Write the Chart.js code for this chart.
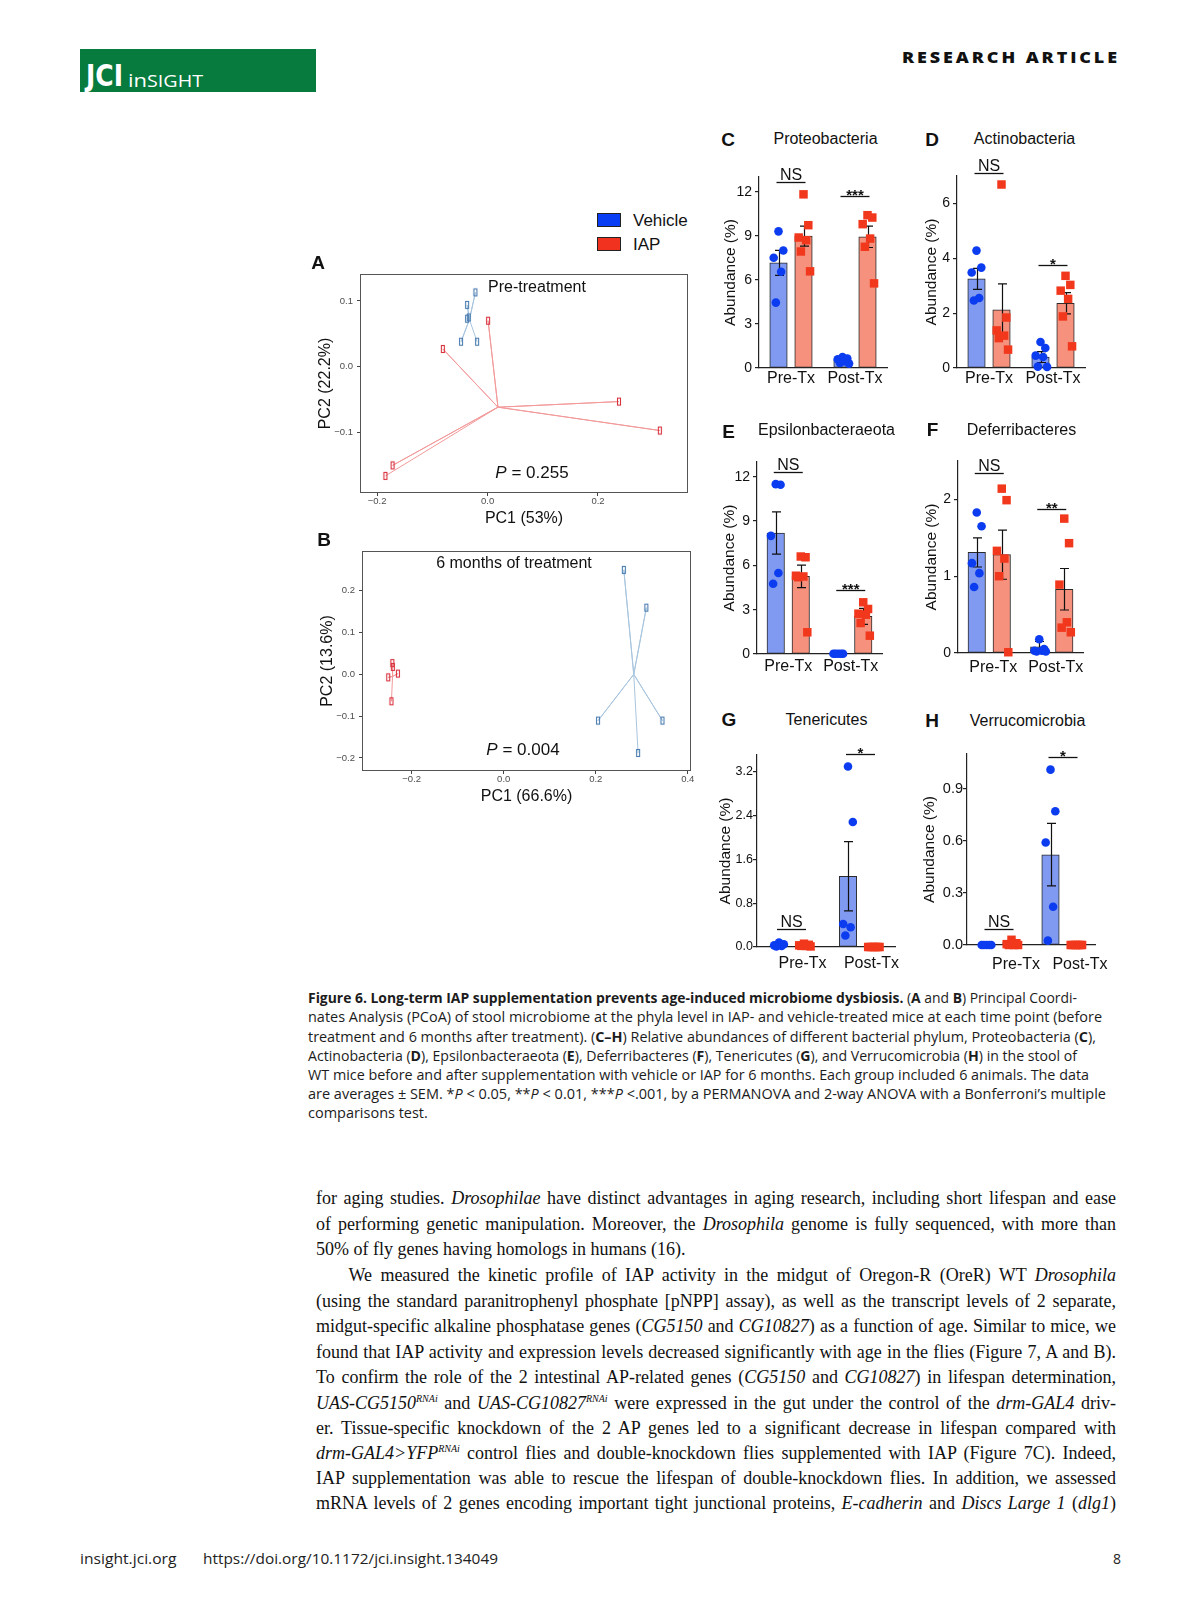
<!DOCTYPE html>
<html lang="en">
<head>
<meta charset="utf-8">
<title>Figure 6 – Long-term IAP supplementation</title>
<script src="https://cdn.jsdelivr.net/npm/chart.js@4.4.1/dist/chart.umd.min.js"></script>
<style>
html,body{margin:0;padding:0;background:#fff;}
body{position:relative;width:1195px;height:1600px;overflow:hidden;font-family:"Liberation Sans",Arial,Helvetica,sans-serif;color:#111;}
canvas{position:absolute;}
.t{position:absolute;white-space:nowrap;line-height:1;}
.cap{position:absolute;white-space:nowrap;line-height:1;font-family:"Open Sans","Noto Sans",sans-serif;font-size:14.5px;color:#1c1c1c;transform-origin:0 50%;}
.bt{position:absolute;white-space:nowrap;line-height:1;font-family:"Liberation Serif","Times New Roman",serif;font-size:18px;color:#111;transform-origin:0 50%;}
.bt sup{font-size:10px;vertical-align:7px;line-height:0;}
.ft{position:absolute;white-space:nowrap;line-height:1;font-family:"Open Sans","Noto Sans",sans-serif;font-size:14px;color:#222;transform-origin:0 50%;}
</style>
</head>
<body>
<script>
// ===================== DATA =====================
const groupLabels = ['Pre-Tx', 'Post-Tx'];
const seriesLabels = ['Vehicle', 'IAP'];

// A: PCoA, pre-treatment
const pcoaAVehicleX = [-0.022, -0.037, -0.037, -0.034, -0.048, -0.019];
const pcoaAVehicleY = [0.113, 0.094, 0.073, 0.075, 0.038, 0.038];
const pcoaAIapX = [0.001, -0.081, 0.238, 0.312, -0.172, -0.185];
const pcoaAIapY = [0.070, 0.027, -0.053, -0.097, -0.150, -0.166];
const pcoaAXTicks = [-0.2, 0.0, 0.2];
const pcoaAXTickLabels = ['\u22120.2', '0.0', '0.2'];
const pcoaAYTicks = [-0.1, 0.0, 0.1];
const pcoaAYTickLabels = ['\u22120.1', '0.0', '0.1'];

// B: PCoA, 6 months of treatment
const pcoaBVehicleX = [0.261, 0.310, 0.205, 0.345, 0.292];
const pcoaBVehicleY = [0.248, 0.158, -0.111, -0.111, -0.188];
const pcoaBIapX = [-0.242, -0.241, -0.251, -0.230, -0.244];
const pcoaBIapY = [0.026, 0.017, -0.008, 0.001, -0.065];
const pcoaBXTicks = [-0.2, 0.0, 0.2, 0.4];
const pcoaBXTickLabels = ['\u22120.2', '0.0', '0.2', '0.4'];
const pcoaBYTicks = [-0.2, -0.1, 0.0, 0.1, 0.2];
const pcoaBYTickLabels = ['\u22120.2', '\u22120.1', '0.0', '0.1', '0.2'];

// C: Proteobacteria
const proteoVehicleMean = [7.16, 0.52];
const proteoVehicleSem = [0.85, 0.10];
const proteoIapMean = [8.98, 8.93];
const proteoIapSem = [0.68, 0.73];
const proteoVehiclePre = [9.30, 8.00, 7.50, 6.55, 4.45];
const proteoVehiclePost = [0.75, 0.65, 0.60, 0.45, 0.35, 0.30];
const proteoIapPre = [11.82, 9.72, 8.88, 8.70, 7.93, 6.58];
const proteoIapPost = [10.40, 10.24, 9.79, 8.81, 8.25, 5.76];
const proteoTicks = [0, 3, 6, 9, 12];
const proteoTickLabels = ['0', '3', '6', '9', '12'];
const proteoSig = ['NS', '***'];

// D: Actinobacteria
const actinoVehicleMean = [3.25, 0.40];
const actinoVehicleSem = [0.38, 0.20];
const actinoIapMean = [2.12, 2.36];
const actinoIapSem = [0.95, 0.39];
const actinoVehiclePre = [4.28, 3.66, 3.48, 2.55, 2.46];
const actinoVehiclePost = [0.95, 0.73, 0.45, 0.40, 0.05, 0.04];
const actinoIapPre = [6.69, 1.84, 1.37, 1.18, 1.09, 0.67];
const actinoIapPost = [3.36, 3.03, 2.82, 2.52, 1.88, 0.79];
const actinoTicks = [0, 2, 4, 6];
const actinoTickLabels = ['0', '2', '4', '6'];
const actinoSig = ['NS', '*'];

// E: Epsilonbacteraeota
const epsilonVehicleMean = [8.19, 0.02];
const epsilonVehicleSem = [1.43, 0.01];
const epsilonIapMean = [5.26, 2.55];
const epsilonIapSem = [0.76, 0.54];
const epsilonVehiclePre = [11.50, 11.46, 8.00, 5.48, 4.76];
const epsilonVehiclePost = [0.02, 0.02, 0.02, 0.02, 0.02];
const epsilonIapPre = [6.60, 6.55, 5.30, 5.25, 5.20, 1.47];
const epsilonIapPost = [3.50, 3.05, 2.73, 2.66, 2.10, 1.24];
const epsilonTicks = [0, 3, 6, 9, 12];
const epsilonTickLabels = ['0', '3', '6', '9', '12'];
const epsilonSig = ['NS', '***'];

// F: Deferribacteres
const deferriVehicleMean = [1.31, 0.08];
const deferriVehicleSem = [0.19, 0.07];
const deferriIapMean = [1.28, 0.83];
const deferriIapSem = [0.32, 0.27];
const deferriVehiclePre = [1.83, 1.65, 1.17, 1.04, 0.86];
const deferriVehiclePost = [0.18, 0.05, 0.03, 0.03, 0.02, 0.02];
const deferriIapPre = [2.14, 1.99, 1.33, 1.23, 1.00, 0.01];
const deferriIapPost = [1.75, 1.43, 0.89, 0.40, 0.33, 0.27];
const deferriTicks = [0, 1, 2];
const deferriTickLabels = ['0', '1', '2'];
const deferriSig = ['NS', '**'];

// G: Tenericutes
const teneriVehicleMean = [0.03, 1.29];
const teneriVehicleSem = [0.01, 0.63];
const teneriIapMean = [0.03, 0.00];
const teneriIapSem = [0.01, 0.00];
const teneriVehiclePre = [0.08, 0.05, 0.03, 0.02, 0.01];
const teneriVehiclePost = [3.29, 2.28, 0.42, 0.36, 0.21];
const teneriIapPre = [0.06, 0.04, 0.03, 0.02, 0.02, 0.01];
const teneriIapPost = [0.00, 0.00, 0.00, 0.00, 0.00, 0.00];
const teneriTicks = [0, 0.8, 1.6, 2.4, 3.2];
const teneriTickLabels = ['0.0', '0.8', '1.6', '2.4', '3.2'];
const teneriSig = ['NS', '*'];

// H: Verrucomicrobia
const verrucoVehicleMean = [0.00, 0.52];
const verrucoVehicleSem = [0.00, 0.18];
const verrucoIapMean = [0.015, 0.00];
const verrucoIapSem = [0.005, 0.00];
const verrucoVehiclePre = [0.00, 0.00, 0.00, 0.00, 0.00];
const verrucoVehiclePost = [1.01, 0.77, 0.59, 0.22, 0.025];
const verrucoIapPre = [0.03, 0.01, 0.005, 0.00, 0.00, 0.00];
const verrucoIapPost = [0.00, 0.00, 0.00, 0.00, 0.00, 0.00];
const verrucoTicks = [0, 0.3, 0.6, 0.9];
const verrucoTickLabels = ['0.0', '0.3', '0.6', '0.9'];
const verrucoSig = ['NS', '*'];

// ===================== STYLE =====================
const FF = '"Liberation Sans", Arial, Helvetica, sans-serif';
const VEH_BAR = '#7f9af0';
const IAP_BAR = '#f5917d';
const VEH_DOT = '#0c3cf0';
const IAP_DOT = '#f2381c';
const AXIS = '#222';
const JITTER = [0.0, 0.55, -0.55, 0.3, -0.3, 0.75];
const BAR_W = 17.5;     // bar width, px
const BAR_SLOT = 12.5;  // distance of each bar centre from the group centre, px

Chart.defaults.font.family = FF;
Chart.defaults.color = '#111';

const mean = a => a.reduce((s, v) => s + v, 0) / a.length;

function makeCanvas(box) {
  const [l, t, r, b] = box;
  const c = document.createElement('canvas');
  const w = r - l, h = b - t;
  c.width = w; c.height = h;
  c.style.left = l + 'px'; c.style.top = t + 'px';
  c.style.width = w + 'px'; c.style.height = h + 'px';
  document.body.appendChild(c);
  return c;
}

function text(html, x, y, style, anchor) {
  const d = document.createElement('div');
  d.className = 't';
  d.innerHTML = html;
  Object.assign(d.style, style || {});
  d.style.left = x + 'px';
  d.style.top = y + 'px';
  d.style.transform = anchor === 'left' ? 'translateY(-50%)' : 'translate(-50%,-50%)';
  document.body.appendChild(d);
  return d;
}

// ===================== PCoA PANELS =====================
function rectMarker(color) {
  const c = document.createElement('canvas');
  c.width = 6; c.height = 10;
  const x = c.getContext('2d');
  x.strokeStyle = color; x.lineWidth = 1.1;
  x.strokeRect(1.5, 1.5, 3, 7);
  return c;
}

function pcoaPanel(p) {
  const cv = makeCanvas(p.canvas);
  const [cl, ct, cr, cb] = p.canvas;
  const xy = (xs, ys) => xs.map((x, i) => ({ x: x, y: ys[i] }));
  const spider = (xs, ys) => {
    const cx = mean(xs), cy = mean(ys), d = [];
    xs.forEach((x, i) => { d.push({ x: cx, y: cy }); d.push({ x: x, y: ys[i] }); });
    return d;
  };
  const frame = {
    id: 'frame',
    beforeDatasetsDraw(chart) {
      const a = chart.chartArea, ctx = chart.ctx;
      ctx.save();
      ctx.strokeStyle = '#555'; ctx.lineWidth = 1;
      ctx.strokeRect(Math.round(a.left) + 0.5, Math.round(a.top) + 0.5,
        Math.round(a.right - a.left) - 1, Math.round(a.bottom - a.top) - 1);
      ctx.restore();
    }
  };
  new Chart(cv, {
    type: 'scatter',
    data: {
      datasets: [
        { type: 'line', data: spider(p.iapX, p.iapY), borderColor: '#f29a9a', borderWidth: 1, pointRadius: 0, tension: 0, fill: false, order: 3 },
        { type: 'line', data: spider(p.vehX, p.vehY), borderColor: '#a8c5de', borderWidth: 1, pointRadius: 0, tension: 0, fill: false, order: 2 },
        { type: 'scatter', label: seriesLabels[1], data: xy(p.iapX, p.iapY), pointStyle: rectMarker('#d8323f'), pointRadius: 4, clip: false, order: 1 },
        { type: 'scatter', label: seriesLabels[0], data: xy(p.vehX, p.vehY), pointStyle: rectMarker('#4a7cb0'), pointRadius: 4, clip: false, order: 0 }
      ]
    },
    options: {
      responsive: false, devicePixelRatio: 1, animation: false,
      layout: { padding: { left: 0, top: p.area.t - ct, right: cr - p.area.r, bottom: 0 }, autoPadding: false },
      plugins: { legend: { display: false }, tooltip: { enabled: false } },
      scales: {
        x: {
          type: 'linear', min: p.xMin, max: p.xMax, offset: false,
          afterBuildTicks(s) { s.ticks = p.xTicks.map(v => ({ value: v })); },
          ticks: { font: { size: 9.5 }, color: '#4d4d4d', padding: 0, autoSkip: false, maxRotation: 0, callback: (v, i) => p.xTickLabels[i] },
          grid: { drawOnChartArea: false, drawTicks: true, tickLength: 3, color: '#444' },
          border: { display: false },
          title: { display: true, text: p.xTitle, font: { size: 16 }, color: '#111', padding: 0 },
          afterFit(s) { s.height = cb - p.area.b; s.paddingLeft = 0; s.paddingRight = 0; }
        },
        y: {
          type: 'linear', min: p.yMin, max: p.yMax,
          afterBuildTicks(s) { s.ticks = p.yTicks.map(v => ({ value: v })); },
          ticks: { font: { size: 9.5 }, color: '#4d4d4d', padding: 4, autoSkip: false, callback: (v, i) => p.yTickLabels[i] },
          grid: { drawOnChartArea: false, drawTicks: true, tickLength: 3, color: '#444' },
          border: { display: false },
          title: { display: true, text: p.yTitle, font: { size: 16 }, color: '#111', padding: 0 },
          afterFit(s) { s.width = p.area.l - cl; s.paddingTop = 0; s.paddingBottom = 0; }
        }
      }
    },
    plugins: [frame]
  });
}

// ===================== BAR PANELS =====================
function barPanel(p) {
  const cv = makeCanvas(p.canvas);
  const [cl, ct, cr, cb] = p.canvas;
  const catW = (p.area.r - p.area.l) / 2;      // px per group
  const slot = BAR_SLOT / catW;                 // group units
  const half = (BAR_W / 2) / catW;
  const barData = (m, s) => m.map((v, g) => ({ x: g + 0.5 + (s ? 1 : -1) * slot, y: v }));
  const dots = (vals, g, s) => vals.map((v, i) => ({
    x: g + 0.5 + (s ? 1 : -1) * slot + JITTER[i % JITTER.length] * half, y: v
  }));
  const vehDots = dots(p.vehPre, 0, 0).concat(dots(p.vehPost, 1, 0));
  const iapDots = dots(p.iapPre, 0, 1).concat(dots(p.iapPost, 1, 1));

  let barsDrawn = 0;
  const extras = {
    id: 'extras',
    beforeDatasetsDraw() { barsDrawn = 0; },
    afterDatasetDraw(chart, args) {
      if (args.meta.type !== 'bar') return;
      if (++barsDrawn < 2) return;
      const ys = chart.scales.y, ctx = chart.ctx;
      ctx.save();
      ctx.strokeStyle = '#111'; ctx.lineWidth = 1.2;
      [[0, p.vehMean, p.vehSem], [1, p.iapMean, p.iapSem]].forEach(([di, m, s]) => {
        const meta = chart.getDatasetMeta(di);
        m.forEach((v, g) => {
          if (!s[g] || s[g] < 0.02 * p.yMax) return;
          const x = Math.round(meta.data[g].x) + 0.5;
          const yt = ys.getPixelForValue(v + s[g]);
          const yb = ys.getPixelForValue(Math.max(0, v - s[g]));
          ctx.beginPath();
          ctx.moveTo(x, yt); ctx.lineTo(x, yb);
          ctx.moveTo(x - 4.5, yt); ctx.lineTo(x + 4.5, yt);
          ctx.moveTo(x - 4.5, yb); ctx.lineTo(x + 4.5, yb);
          ctx.stroke();
        });
      });
      ctx.restore();
    },
    afterDraw(chart) {
      const ys = chart.scales.y, ctx = chart.ctx;
      const m0 = chart.getDatasetMeta(0), m1 = chart.getDatasetMeta(1);
      ctx.save();
      ctx.strokeStyle = '#111'; ctx.fillStyle = '#111'; ctx.lineWidth = 1.3;
      p.sig.forEach((lab, g) => {
        const cx = (m0.data[g].x + m1.data[g].x) / 2;
        const y = Math.round(ys.getPixelForValue(p.sigY[g])) + 0.5;
        ctx.beginPath(); ctx.moveTo(cx - 14.5, y); ctx.lineTo(cx + 14.5, y); ctx.stroke();
        ctx.textAlign = 'center'; ctx.textBaseline = 'alphabetic';
        if (lab === 'NS') {
          ctx.font = '16px ' + FF;
          ctx.fillText(lab, cx, y - 3);
        } else {
          ctx.font = 'bold 15px ' + FF;
          ctx.fillText(lab, cx, y + 3);
        }
      });
      ctx.restore();
    }
  };

  const barCommon = {
    type: 'bar', xAxisID: 'x', yAxisID: 'y', grouped: false,
    barPercentage: 1, categoryPercentage: 1, maxBarThickness: BAR_W,
    borderColor: '#2a2a2a', borderWidth: 1, borderSkipped: false, order: 2
  };

  new Chart(cv, {
    type: 'bar',
    data: {
      datasets: [
        Object.assign({ label: seriesLabels[0], data: barData(p.vehMean, 0), backgroundColor: VEH_BAR }, barCommon),
        Object.assign({ label: seriesLabels[1], data: barData(p.iapMean, 1), backgroundColor: IAP_BAR }, barCommon),
        { type: 'scatter', label: seriesLabels[0], data: vehDots, xAxisID: 'xd', yAxisID: 'y', pointStyle: 'circle', pointRadius: 4.3, backgroundColor: VEH_DOT, borderWidth: 0, clip: false, order: 1 },
        { type: 'scatter', label: seriesLabels[1], data: iapDots, xAxisID: 'xd', yAxisID: 'y', pointStyle: 'rect', pointRadius: 6, backgroundColor: IAP_DOT, borderWidth: 0, clip: false, order: 0 }
      ]
    },
    options: {
      responsive: false, devicePixelRatio: 1, animation: false,
      layout: { padding: { left: 0, top: p.area.t - ct, right: cr - p.area.r, bottom: 0 }, autoPadding: false },
      plugins: { legend: { display: false }, tooltip: { enabled: false } },
      scales: {
        x: {
          type: 'linear', min: 0, max: 2, offset: false,
          afterBuildTicks(s) { s.ticks = groupLabels.map((_, i) => ({ value: i + 0.5 })); },
          grid: { display: false, drawTicks: false, offset: false },
          border: { display: true, color: AXIS, width: 1.2 },
          ticks: { font: { size: 16 }, color: '#111', padding: p.xPad, labelOffset: p.labelOffset || 0, autoSkip: false, maxRotation: 0, callback: (v, i) => groupLabels[i] },
          afterFit(s) { s.height = cb - p.area.b; s.paddingLeft = 0; s.paddingRight = 0; }
        },
        xd: { type: 'linear', display: false, min: 0, max: 2, offset: false, grid: { offset: false } },
        y: {
          type: 'linear', min: 0, max: p.yMax,
          afterBuildTicks(s) { s.ticks = p.ticks.map(v => ({ value: v })); },
          ticks: { font: { size: p.tickFont || 14 }, color: '#111', padding: p.tickPad === undefined ? 3 : p.tickPad, autoSkip: false, callback: (v, i) => p.tickLabels[i] },
          grid: { drawOnChartArea: false, drawTicks: true, tickLength: 4, color: AXIS, lineWidth: 1.2 },
          border: { display: true, color: AXIS, width: 1.2 },
          title: { display: true, text: 'Abundance (%)', font: { size: 15.5 }, color: '#111', padding: 0 },
          afterFit(s) { s.width = p.area.l - cl; s.paddingTop = 0; s.paddingBottom = 0; }
        }
      }
    },
    plugins: [extras]
  });
}

// ===================== BUILD =====================
// Header logo box
const logo = document.createElement('div');
Object.assign(logo.style, { position: 'absolute', left: '80px', top: '49px', width: '236px', height: '43px', background: '#077a3e' });
document.body.appendChild(logo);

// PCoA panels
pcoaPanel({
  canvas: [316, 265, 695, 528], area: { l: 360, t: 274, r: 688, b: 493 },
  xMin: -0.231, xMax: 0.363, yMin: -0.192, yMax: 0.141,
  xTicks: pcoaAXTicks, xTickLabels: pcoaAXTickLabels, yTicks: pcoaAYTicks, yTickLabels: pcoaAYTickLabels,
  vehX: pcoaAVehicleX, vehY: pcoaAVehicleY, iapX: pcoaAIapX, iapY: pcoaAIapY,
  xTitle: 'PC1 (53%)', yTitle: 'PC2 (22.2%)'
});
pcoaPanel({
  canvas: [318, 541, 700, 806], area: { l: 362, t: 551, r: 691, b: 771 },
  xMin: -0.308, xMax: 0.407, yMin: -0.231, yMax: 0.293,
  xTicks: pcoaBXTicks, xTickLabels: pcoaBXTickLabels, yTicks: pcoaBYTicks, yTickLabels: pcoaBYTickLabels,
  vehX: pcoaBVehicleX, vehY: pcoaBVehicleY, iapX: pcoaBIapX, iapY: pcoaBIapY,
  xTitle: 'PC1 (66.6%)', yTitle: 'PC2 (13.6%)'
});

// Bar panels
barPanel({ canvas: [721, 150, 900, 398], area: { l: 759, t: 177, r: 887, b: 368 }, yMax: 13, xPad: 1.4,
  ticks: proteoTicks, tickLabels: proteoTickLabels, vehMean: proteoVehicleMean, vehSem: proteoVehicleSem,
  iapMean: proteoIapMean, iapSem: proteoIapSem, vehPre: proteoVehiclePre, vehPost: proteoVehiclePost,
  iapPre: proteoIapPre, iapPost: proteoIapPost, sig: proteoSig, sigY: [12.64, 11.7] });
barPanel({ canvas: [922, 150, 1100, 398], area: { l: 957, t: 176, r: 1085, b: 368 }, yMax: 7, xPad: 1.4,
  ticks: actinoTicks, tickLabels: actinoTickLabels, vehMean: actinoVehicleMean, vehSem: actinoVehicleSem,
  iapMean: actinoIapMean, iapSem: actinoIapSem, vehPre: actinoVehiclePre, vehPost: actinoVehiclePost,
  iapPre: actinoIapPre, iapPost: actinoIapPost, sig: actinoSig, sigY: [7.11, 3.76] });
barPanel({ canvas: [720, 440, 900, 688], area: { l: 757, t: 462, r: 882, b: 654 }, yMax: 13, xPad: 3.1,
  ticks: epsilonTicks, tickLabels: epsilonTickLabels, vehMean: epsilonVehicleMean, vehSem: epsilonVehicleSem,
  iapMean: epsilonIapMean, iapSem: epsilonIapSem, vehPre: epsilonVehiclePre, vehPost: epsilonVehiclePost,
  iapPre: epsilonIapPre, iapPost: epsilonIapPost, sig: epsilonSig, sigY: [12.32, 4.35] });
barPanel({ canvas: [922, 440, 1100, 688], area: { l: 958, t: 461, r: 1083, b: 653 }, yMax: 2.5, xPad: 5.4,
  ticks: deferriTicks, tickLabels: deferriTickLabels, vehMean: deferriVehicleMean, vehSem: deferriVehicleSem,
  iapMean: deferriIapMean, iapSem: deferriIapSem, vehPre: deferriVehiclePre, vehPost: deferriVehiclePost,
  iapPre: deferriIapPre, iapPost: deferriIapPost, sig: deferriSig, sigY: [2.35, 1.874], labelOffset: 4 });
barPanel({ canvas: [716, 735, 915, 985], area: { l: 757, t: 755, r: 895, b: 947 }, yMax: 3.5, xPad: 6.7,
  tickFont: 12.5, tickPad: 0,
  ticks: teneriTicks, tickLabels: teneriTickLabels, vehMean: teneriVehicleMean, vehSem: teneriVehicleSem,
  iapMean: teneriIapMean, iapSem: teneriIapSem, vehPre: teneriVehiclePre, vehPost: teneriVehiclePost,
  iapPre: teneriIapPre, iapPost: teneriIapPost, sig: teneriSig, sigY: [0.324, 3.518], labelOffset: 11 });
barPanel({ canvas: [920, 735, 1120, 985], area: { l: 967, t: 754, r: 1095, b: 945 }, yMax: 1.1, xPad: 10.4,
  tickFont: 14.5, tickPad: 0,
  ticks: verrucoTicks, tickLabels: verrucoTickLabels, vehMean: verrucoVehicleMean, vehSem: verrucoVehicleSem,
  iapMean: verrucoIapMean, iapSem: verrucoIapSem, vehPre: verrucoVehiclePre, vehPost: verrucoVehiclePost,
  iapPre: verrucoIapPre, iapPost: verrucoIapPost, sig: verrucoSig, sigY: [0.09, 1.082], labelOffset: 17 });

// ----- panel letters and titles -----
const L = { fontWeight: 'bold', fontSize: '19px' };
const T = { fontSize: '16px' };
text('A', 318, 262, L); text('B', 324, 539, L);
text('C', 728, 139, L); text('Proteobacteria', 825.5, 139, T);
text('D', 932, 139, L); text('Actinobacteria', 1024.5, 139, T);
text('E', 728.5, 431, L); text('Epsilonbacteraeota', 826.5, 430, T);
text('F', 932.5, 429, L); text('Deferribacteres', 1021.5, 430, T);
text('G', 729, 719, L); text('Tenericutes', 826.5, 720, T);
text('H', 932, 720, L); text('Verrucomicrobia', 1027.5, 721, T);

// ----- legend -----
function legendBox(y, color) {
  const b = document.createElement('div');
  Object.assign(b.style, { position: 'absolute', left: '597px', top: y + 'px', width: '22px', height: '12px', background: color, border: '1px solid #222' });
  document.body.appendChild(b);
}
legendBox(213, '#0a3ef5'); legendBox(237, '#f0321e');
text(seriesLabels[0], 633, 220, { fontSize: '17px' }, 'left');
text(seriesLabels[1], 633, 244, { fontSize: '17px' }, 'left');

// ----- PCoA annotations -----
text('Pre-treatment', 537, 287, { fontSize: '16px' });
text('<i>P</i> = 0.255', 532, 472, { fontSize: '17px' });
text('6 months of treatment', 514, 563, { fontSize: '16px' });
text('<i>P</i> = 0.004', 523, 749, { fontSize: '17px' });

// ----- generic fitted lines -----
function line(html, cls, left, cy, target, mode, style) {
  const d = document.createElement('div');
  d.className = cls;
  d.innerHTML = html;
  if (style) Object.assign(d.style, style);
  d.style.left = left + 'px';
  d.style.top = cy + 'px';
  document.body.appendChild(d);
  const w = d.getBoundingClientRect().width;
  let sx = 1;
  if (mode === 'justify') {
    if (w < target) {
      const n = (d.textContent.match(/ /g) || []).length;
      if (n) d.style.wordSpacing = ((target - w) / n) + 'px';
    } else sx = target / w;
  } else if (mode === 'fit') sx = target / w;
  else if (typeof mode === 'number') sx = mode;
  d.style.transform = 'translateY(-50%) scaleX(' + sx + ')';
  return sx;
}

// header texts
line('JCI', 't', 86, 75, 37, 'fit', { color: '#fff', fontWeight: '700', fontSize: '31px', fontFamily: '"DejaVu Sans",sans-serif', transformOrigin: '0 50%' });
line('in<span style="font-size:17px">SIGHT</span>', 't', 128, 79.5, 75, 'fit', { color: '#fff', fontWeight: '400', fontSize: '19px', fontFamily: '"Open Sans",sans-serif', transformOrigin: '0 50%' });
line('RESEARCH ARTICLE', 't', 902, 57, 218, 'fit', { color: '#111', fontWeight: '800', fontSize: '16px', letterSpacing: '2.6px', fontFamily: '"Open Sans",sans-serif', transformOrigin: '0 50%' });

// caption
const capLines = [
  ['<b>Figure 6. Long-term IAP supplementation prevents age-induced microbiome dysbiosis.</b> (<b>A</b> and <b>B</b>) Principal Coordi-', 998.3, 1077],
  ['nates Analysis (PCoA) of stool microbiome at the phyla level in IAP- and vehicle-treated mice at each time point (before', 1017.4, 1102],
  ['treatment and 6 months after treatment). (<b>C–H</b>) Relative abundances of different bacterial phylum, Proteobacteria (<b>C</b>),', 1036.6, 1096],
  ['Actinobacteria (<b>D</b>), Epsilonbacteraeota (<b>E</b>), Deferribacteres (<b>F</b>), Tenericutes (<b>G</b>), and Verrucomicrobia (<b>H</b>) in the stool of', 1055.8, 1077],
  ['WT mice before and after supplementation with vehicle or IAP for 6 months. Each group included 6 animals. The data', 1075, 1089],
  ['are averages ± SEM. *<i>P</i> &lt; 0.05, **<i>P</i> &lt; 0.01, ***<i>P</i> &lt;.001, by a PERMANOVA and 2-way ANOVA with a Bonferroni’s multiple', 1094.2, 1106]
];
let capScale = 1;
capLines.forEach(([h, y, end]) => { capScale = line(h, 'cap', 308, y, end - 308, 'fit'); });
line('comparisons test.', 'cap', 308, 1113.4, 0, capScale);

// body text
const B0 = 316, B1 = 1116;
const bodyLines = [
  ['for aging studies. <i>Drosophilae</i> have distinct advantages in aging research, including short lifespan and ease', B0, 1198, 'justify'],
  ['of performing genetic manipulation. Moreover, the <i>Drosophila</i> genome is fully sequenced, with more than', B0, 1223.5, 'justify'],
  ['50% of fly genes having homologs in humans (16).', B0, 1249, 'last'],
  ['We measured the kinetic profile of IAP activity in the midgut of Oregon-R (OreR) WT <i>Drosophila</i>', 348.5, 1275, 'justify'],
  ['(using the standard paranitrophenyl phosphate [pNPP] assay), as well as the transcript levels of 2 separate,', B0, 1300.5, 'justify'],
  ['midgut-specific alkaline phosphatase genes (<i>CG5150</i> and <i>CG10827</i>) as a function of age. Similar to mice, we', B0, 1326, 'justify'],
  ['found that IAP activity and expression levels decreased significantly with age in the flies (Figure 7, A and B).', B0, 1351.5, 'justify'],
  ['To confirm the role of the 2 intestinal AP-related genes (<i>CG5150</i> and <i>CG10827</i>) in lifespan determination,', B0, 1377, 'justify'],
  ['<i>UAS-CG5150<sup>RNAi</sup></i> and <i>UAS-CG10827<sup>RNAi</sup></i> were expressed in the gut under the control of the <i>drm-GAL4</i> driv-', B0, 1402.5, 'justify'],
  ['er. Tissue-specific knockdown of the 2 AP genes led to a significant decrease in lifespan compared with', B0, 1428, 'justify'],
  ['<i>drm-GAL4&gt;YFP<sup>RNAi</sup></i> control flies and double-knockdown flies supplemented with IAP (Figure 7C). Indeed,', B0, 1453, 'justify'],
  ['IAP supplementation was able to rescue the lifespan of double-knockdown flies. In addition, we assessed', B0, 1478, 'justify'],
  ['mRNA levels of 2 genes encoding important tight junctional proteins, <i>E-cadherin</i> and <i>Discs Large 1</i> (<i>dlg1</i>)', B0, 1503, 'justify']
];
let bodyScale = 1;
bodyLines.forEach(([h, x, y, mode]) => {
  if (mode === 'last') line(h, 'bt', x, y, 0, Math.min(1, bodyScale));
  else bodyScale = line(h, 'bt', x, y, B1 - x, mode);
});

// footer
line('insight.jci.org', 'ft', 80, 1559, 96.5, 'fit');
line('https://doi.org/10.1172/jci.insight.134049', 'ft', 203, 1559, 295, 'fit');
line('8', 'ft', 1113, 1559, 0, 1);
</script>
</body>
</html>
